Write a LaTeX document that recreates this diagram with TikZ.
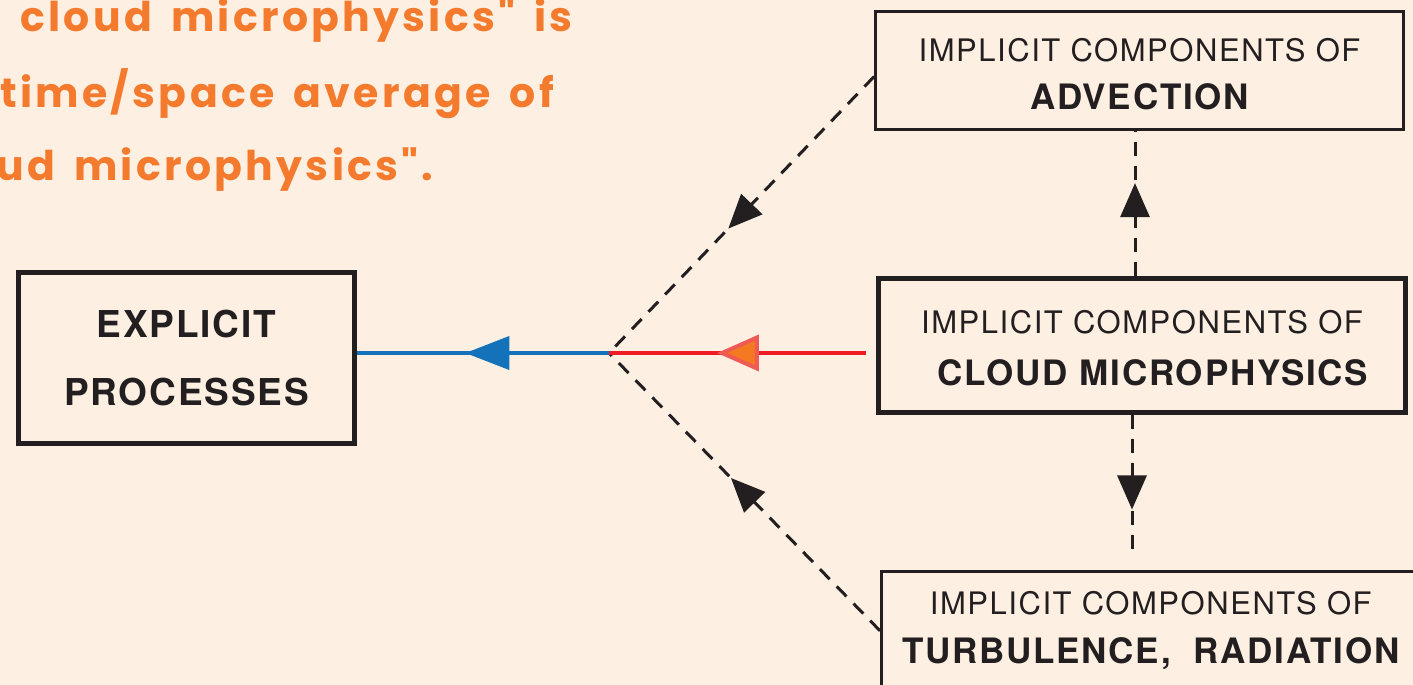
\documentclass[tikz,border=0pt]{standalone}
\usepackage{fontspec}
\setmainfont{TeX Gyre Heros}[LetterSpace=5]
\newfontfamily\notefont{Poppins}[LetterSpace=8,WordSpace=1.6]
\usetikzlibrary{arrows.meta,decorations.markings}
\definecolor{bgpeach}{HTML}{FDF0E3}
\definecolor{boxline}{HTML}{231F20}
\definecolor{noteorange}{HTML}{F47B2E}
\definecolor{explicitblue}{HTML}{1472BA}
\definecolor{implicitred}{HTML}{EE1C25}
\definecolor{headorange}{HTML}{F47920}
\definecolor{headred}{HTML}{EF5A55}

\begin{document}
\begin{tikzpicture}[
  x=0.5pt,
  y=-0.5pt,
  procbox/.style={draw=boxline,line width=#1,fill=bgpeach,text=boxline,align=center,inner sep=0pt},
  notetext/.style={anchor=base west,inner sep=0pt,text=noteorange,font=\notefont\bfseries\fontsize{20.5}{20.5}\selectfont},
  midtip/.style={postaction={decorate},decoration={markings,mark=at position #1 with {\arrow{>}}}},
  dashlink/.style={draw=boxline,line width=1.5pt,dash pattern=on 7pt off 5pt,
    >={Triangle[length=17pt,width=14.5pt]}},
  explicitlink/.style={draw=explicitblue,line width=2pt,
    >={Triangle[length=22pt,width=16.5pt]}},
  implicitlink/.style={draw=implicitred,line width=2.3pt,
    >={Triangle[length=21pt,width=18pt,fill=headorange,color=headred,line width=2pt]}}
]
  \useasboundingbox (0,0) rectangle (1413,685);
  \clip (0,0) rectangle (1413,685);
  \fill[bgpeach] (0,0) rectangle (1413,685);

  % Note text, cut off at the left edge.
  \node[notetext] (note1) at (20,32) {cloud microphysics" is};
  \node[notetext] (note2) at (0,107) {time/space average of};
  \node[notetext] (note3) at (-4,180) {ud microphysics".};

  % Junction of the implicit contributions.
  \coordinate (hub) at (609,353);

  % Boxes; the rules push the first line down a little.
  \node[procbox=2.5pt,minimum width=168pt,minimum height=85.5pt,
    font=\fontsize{18.5}{34}\selectfont\bfseries] (expl) at (186.5,358) {EXPLICIT\\PROCESSES};
  \node[procbox=1.35pt,minimum width=264pt,minimum height=59pt,
    font=\fontsize{15.5}{24}\selectfont] (adv) at (1139.5,70.5)
    {\rule{0pt}{15.4pt}IMPLICIT COMPONENTS OF\\{\fontsize{17.5}{24}\selectfont\bfseries ADVECTION}};
  \node[procbox=2.5pt,minimum width=263.5pt,minimum height=67pt,
    font=\fontsize{15.5}{26}\selectfont] (cloud) at (1142,345.5)
    {\rule{0pt}{14pt}IMPLICIT COMPONENTS OF\\{\fontsize{17.5}{26}\selectfont\bfseries\hspace{11pt}CLOUD MICROPHYSICS}};
  \node[procbox=1.5pt,minimum width=269.25pt,minimum height=59.25pt,
    font=\fontsize{15.5}{24.5}\selectfont] (turb) at (1150.75,630.75)
    {IMPLICIT COMPONENTS OF\\{\fontsize{17.5}{24.5}\selectfont\bfseries TURBULENCE,\ \ RADIATION}};

  % Dashed couplings between the implicit parts.
  \draw[dashlink,midtip=0.55] ([yshift=-3pt]adv.west) -- (hub);
  \draw[dashlink,midtip=0.55] (turb.west) -- (hub);
  \draw[dashlink,midtip=0.64] ([xshift=-3.5pt]cloud.north) -- ([xshift=-3.5pt]cloud.north |- adv.south);
  \draw[dashlink,midtip=0.67] ([xshift=-5pt]cloud.south) -- ([xshift=-5pt,yshift=7pt]cloud.south |- turb.north);

  % Solid feeds into the explicit processes.
  \draw[explicitlink,midtip=0.57] (hub) -- (hub -| expl.east);
  \draw[implicitlink,midtip=0.58] ([xshift=-5pt]hub -| cloud.west) -- (hub);
\end{tikzpicture}
\end{document}
